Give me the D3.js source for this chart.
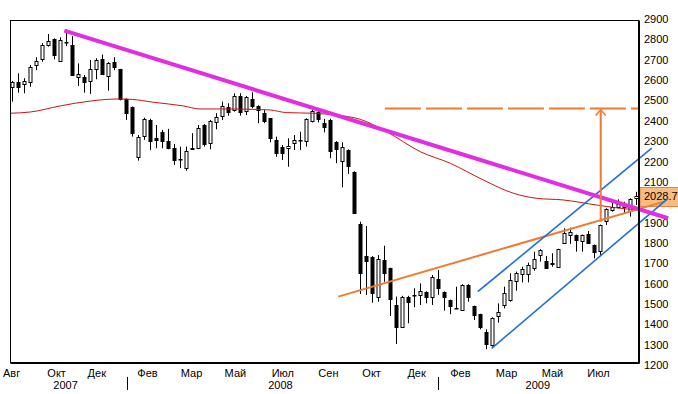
<!DOCTYPE html>
<html>
<head>
<meta charset="utf-8">
<script src="https://cdn.jsdelivr.net/npm/d3@7"></script>
<style>
  body { margin: 0; background: #fff; }
  text { font-family: "Liberation Sans", Arial, sans-serif; font-size: 11px; fill: #000; }
</style>
</head>
<body>
<div id="chart"></div>
<script>
// Weekly candles (Aug 2007 - Aug 2009)
var opens = [2567, 2590, 2579, 2589, 2671, 2702, 2772, 2800, 2695, 2784,
    2771, 2614, 2617, 2592, 2653, 2702, 2617, 2689, 2653, 2505,
    2466, 2223, 2325, 2404, 2314, 2346, 2302, 2268, 2211, 2167,
    2265, 2265, 2379, 2289, 2392, 2423, 2466, 2453, 2523, 2448,
    2505, 2474, 2437, 2412, 2306, 2270, 2265, 2289, 2305, 2297,
    2400, 2442, 2388, 2404, 2294, 2199, 2256, 2150, 1893, 1737,
    1732, 1533, 1716, 1675, 1495, 1388, 1536, 1543, 1547, 1560,
    1533, 1621, 1560, 1519, 1478, 1470, 1593, 1490, 1451, 1361,
    1298, 1437, 1495, 1520, 1610, 1647, 1647, 1675, 1741, 1713,
    1700, 1683, 1801, 1839, 1839, 1811, 1842, 1790, 1762, 1904,
    1962, 1975, 1975, 1953, 2019];
var highs = [2596, 2633, 2609, 2674, 2712, 2781, 2826, 2805, 2810, 2846,
    2816, 2682, 2625, 2699, 2707, 2725, 2689, 2712, 2655, 2510,
    2470, 2330, 2415, 2410, 2379, 2355, 2360, 2286, 2273, 2273,
    2339, 2379, 2384, 2404, 2437, 2494, 2486, 2535, 2535, 2522,
    2540, 2476, 2453, 2412, 2322, 2281, 2314, 2330, 2346, 2412,
    2453, 2461, 2409, 2410, 2300, 2294, 2260, 2152, 1904, 1883,
    1735, 1740, 1786, 1678, 1536, 1540, 1540, 1577, 1601, 1562,
    1642, 1667, 1562, 1521, 1585, 1597, 1598, 1492, 1452, 1375,
    1434, 1503, 1585, 1651, 1659, 1683, 1703, 1757, 1769, 1736,
    1749, 1771, 1872, 1875, 1841, 1841, 1858, 1792, 1890, 1970,
    2002, 2014, 2002, 2019, 2051];
var lows = [2494, 2538, 2535, 2567, 2649, 2690, 2764, 2702, 2695, 2767,
    2620, 2571, 2538, 2532, 2604, 2625, 2548, 2649, 2500, 2404,
    2322, 2204, 2306, 2256, 2265, 2265, 2260, 2183, 2167, 2155,
    2260, 2260, 2273, 2260, 2358, 2404, 2425, 2445, 2425, 2428,
    2461, 2388, 2388, 2294, 2223, 2207, 2174, 2256, 2256, 2273,
    2392, 2392, 2343, 2216, 2191, 2073, 2139, 1945, 1549, 1544,
    1506, 1511, 1609, 1441, 1303, 1385, 1405, 1484, 1495, 1503,
    1495, 1545, 1467, 1450, 1474, 1467, 1511, 1421, 1375, 1277,
    1290, 1408, 1478, 1511, 1565, 1606, 1606, 1663, 1708, 1672,
    1683, 1681, 1798, 1795, 1757, 1757, 1795, 1724, 1736, 1888,
    1953, 1970, 1946, 1929, 1986];
var closes = [2590, 2563, 2595, 2664, 2692, 2771, 2793, 2722, 2797, 2786,
    2623, 2630, 2590, 2653, 2699, 2630, 2682, 2666, 2505, 2437,
    2338, 2319, 2409, 2302, 2306, 2302, 2270, 2211, 2213, 2251,
    2260, 2363, 2286, 2399, 2417, 2473, 2442, 2522, 2442, 2515,
    2469, 2453, 2400, 2314, 2243, 2240, 2276, 2306, 2307, 2407,
    2449, 2409, 2368, 2253, 2260, 2270, 2179, 1948, 1654, 1713,
    1555, 1720, 1651, 1523, 1388, 1536, 1511, 1545, 1565, 1536,
    1631, 1577, 1533, 1490, 1479, 1593, 1536, 1446, 1388, 1303,
    1430, 1459, 1552, 1618, 1651, 1670, 1691, 1719, 1765, 1680,
    1693, 1769, 1851, 1855, 1814, 1839, 1798, 1757, 1888, 1965,
    1978, 1991, 1991, 2014, 2028.77];

// Moving average (week index, value)
var maWeeks = [-0.3, 3, 8, 13, 17.6, 20, 23.5, 28.5, 31.3, 36.3, 40, 43, 45.7, 50, 54, 58,
    62.4, 68, 73, 78.5, 83.5, 87.4, 91.8, 97.4, 103, 104.5];
var maValues = [2437, 2443, 2473, 2497, 2507, 2505, 2491, 2473, 2458, 2458, 2456, 2453, 2440, 2437, 2428, 2407,
    2346, 2248, 2191, 2109, 2044, 2019, 2011, 1986, 1965, 1962];

// Drawn trend lines: [week, value] end points
var magentaLine = [[8.67, 2843], [109.3, 1921]];
var orangeLine = [[54.33, 1536], [108.8, 2004]];
var blueUpper = [[77.57, 1560], [106.57, 2265]];
var blueLower = [[79.9, 1282], [109.3, 2019]];
var targetStart = 62.1;
var targetWeek = 98.07;
var targetFrom = 1904;
var targetValue = 2460;

// Axis labels (2000 sits under the last-price box)
var yTicks = [1200, 1300, 1400, 1500, 1600, 1700, 1800, 1900, 2100, 2200, 2300, 2400, 2500, 2600, 2700, 2800, 2900];
var monthLabels = ["Авг", "Окт", "Дек", "Фев", "Мар", "Май", "Июл", "Сен", "Окт", "Дек", "Фев", "Мар", "Май", "Июл"];
var monthWeeks = [-0.2, 7.3, 14.0, 22.45, 29.8, 37.1, 45.0, 52.6, 59.8, 67.3, 74.6, 82.3, 89.95, 97.6];
var yearLabels = ["2007", "2008", "2009"];
var yearWeeks = [8.8, 44.6, 87.5];
var yearBreaks = [19.1, 70.9];

var svgWidth = 678;
var svgHeight = 394;

var frame = { left: 10.5, top: 20.5, right: 638.5, bottom: 362.5 };

var svg = d3.select("#chart")
    .append("svg")
    .attr("width", svgWidth)
    .attr("height", svgHeight);

// Scales
var x = d3.scaleLinear().domain([0, 104]).range([12.3, 636.3]);
var y = d3.scaleLinear().domain([1200, 2900]).range([365, 19]);

svg.append("clipPath")
    .attr("id", "plotClip")
    .append("rect")
    .attr("x", frame.left)
    .attr("y", frame.top)
    .attr("width", frame.right - frame.left)
    .attr("height", frame.bottom - frame.top);

// Candles
var weeks = d3.range(opens.length);
var px = i => Math.round(x(i)) + 0.5;

var candles = svg.append("g").selectAll("g")
    .data(weeks)
    .enter()
    .append("g");

candles.append("line")
    .attr("x1", px)
    .attr("x2", px)
    .attr("y1", i => y(highs[i]))
    .attr("y2", i => y(lows[i]))
    .attr("stroke", "#000")
    .attr("stroke-width", 1);

candles.append("rect")
    .attr("x", i => px(i) - 1.5)
    .attr("width", 3)
    .attr("y", i => Math.round(y(Math.max(opens[i], closes[i]))) + 0.5)
    .attr("height", i => Math.max(0.5, Math.round(Math.abs(y(opens[i]) - y(closes[i])))))
    .attr("fill", i => closes[i] >= opens[i] ? "#fff" : "#000")
    .attr("stroke", "#000")
    .attr("stroke-width", 1);

// Moving average
var maLine = d3.line()
    .x((d, i) => x(maWeeks[i]))
    .y(d => y(d))
    .curve(d3.curveMonotoneX);

svg.append("path")
    .attr("clip-path", "url(#plotClip)")
    .attr("d", maLine(maValues))
    .attr("fill", "none")
    .attr("stroke", "#c81414")
    .attr("stroke-width", 1);

// Axes
var rightAxis = d3.axisRight(y).tickValues(yTicks).tickSize(0).tickPadding(5).tickFormat(d3.format("d"));
svg.append("g")
    .attr("transform", `translate(639, 0)`)
    .call(rightAxis)
    .call(g => g.select(".domain").remove());

var monthAxis = d3.axisBottom(x).tickValues(monthWeeks).tickSize(0).tickPadding(6)
    .tickFormat((d, i) => monthLabels[i]);
svg.append("g")
    .attr("transform", `translate(0, 363)`)
    .call(monthAxis)
    .call(g => g.select(".domain").remove());

var yearAxis = d3.axisBottom(x).tickValues(yearWeeks).tickSize(0).tickPadding(6)
    .tickFormat((d, i) => yearLabels[i]);
svg.append("g")
    .attr("transform", `translate(0, 375)`)
    .call(yearAxis)
    .call(g => g.select(".domain").remove());

svg.append("g").selectAll("line")
    .data(yearBreaks)
    .enter()
    .append("line")
    .attr("x1", d => Math.round(x(d)) + 0.5)
    .attr("x2", d => Math.round(x(d)) + 0.5)
    .attr("y1", 377)
    .attr("y2", 390)
    .attr("stroke", "#000");

// Last price label
var lastClose = closes[closes.length - 1];
svg.append("rect")
    .attr("x", 640)
    .attr("y", Math.round(y(lastClose)) - 8.5)
    .attr("width", 40)
    .attr("height", 19)
    .attr("fill", "#f8bb80")
    .attr("stroke", "#e8843c");

svg.append("text")
    .attr("x", 644)
    .attr("y", y(lastClose))
    .attr("dy", "0.35em")
    .text(d3.format(".2f")(lastClose));

// Trend lines
var seg = d3.line().x(d => x(d[0])).y(d => y(d[1]));

svg.append("path")
    .attr("d", seg(orangeLine))
    .attr("fill", "none")
    .attr("stroke", "#f07a30")
    .attr("stroke-width", 2);

[blueUpper, blueLower].forEach(function(l) {
    svg.append("path")
        .attr("d", seg(l))
        .attr("fill", "none")
        .attr("stroke", "#1f6fd8")
        .attr("stroke-width", 1.6);
});

svg.append("path")
    .attr("d", seg(magentaLine))
    .attr("fill", "none")
    .attr("stroke", "#e22ee2")
    .attr("stroke-width", 4);

// Target: dashed level and arrow
svg.append("line")
    .attr("x1", x(targetStart))
    .attr("x2", frame.right)
    .attr("y1", y(targetValue))
    .attr("y2", y(targetValue))
    .attr("stroke", "#f07a30")
    .attr("stroke-width", 2)
    .attr("stroke-dasharray", "36,5");

svg.append("line")
    .attr("x1", x(targetWeek))
    .attr("x2", x(targetWeek))
    .attr("y1", y(targetFrom))
    .attr("y2", y(targetValue) + 1)
    .attr("stroke", "#f07a30")
    .attr("stroke-width", 2);

svg.append("path")
    .attr("d", `M${x(targetWeek) - 5},${y(targetValue) + 7} L${x(targetWeek)},${y(targetValue) + 1} L${x(targetWeek) + 5},${y(targetValue) + 7}`)
    .attr("fill", "none")
    .attr("stroke", "#f07a30")
    .attr("stroke-width", 1.5);

// Frame
svg.append("rect")
    .attr("x", frame.left)
    .attr("y", frame.top)
    .attr("width", frame.right - frame.left)
    .attr("height", frame.bottom - frame.top)
    .attr("fill", "none")
    .attr("stroke", "#000");

svg.append("path")
    .attr("d", `M${frame.right + 1},${frame.top} V${frame.bottom + 1} H${frame.left}`)
    .attr("fill", "none")
    .attr("stroke", "#000");
</script>
</body>
</html>
